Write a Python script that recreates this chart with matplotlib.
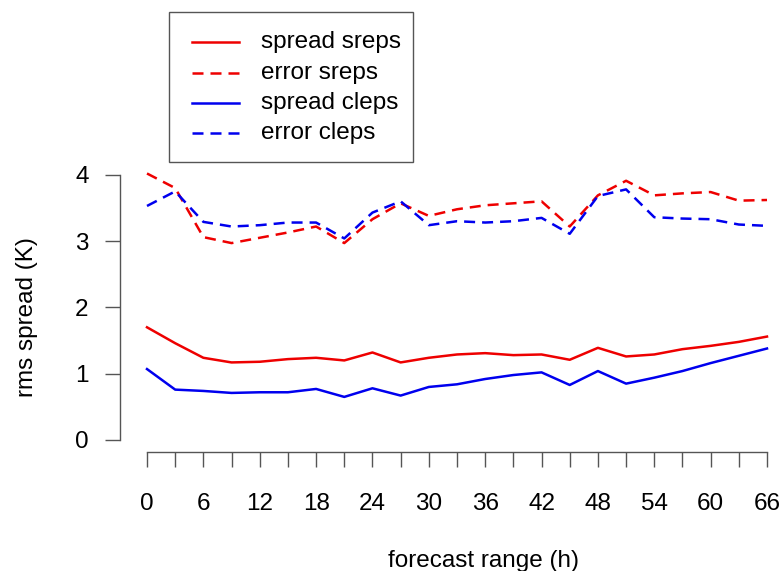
import matplotlib
matplotlib.use("Agg")
import matplotlib.pyplot as plt
from matplotlib.lines import Line2D
from matplotlib.patches import Rectangle

plt.rcParams['font.family'] = ['Liberation Sans', 'DejaVu Sans']

hours = [0, 3, 6, 9, 12, 15, 18, 21, 24, 27, 30, 33, 36, 39, 42, 45, 48, 51, 54, 57, 60, 63, 66]
spread_sreps = [1.70, 1.46, 1.24, 1.17, 1.18, 1.22, 1.24, 1.20, 1.32, 1.17, 1.24, 1.29, 1.31, 1.28, 1.29, 1.21, 1.39, 1.26, 1.29, 1.37, 1.42, 1.48, 1.56]
error_sreps = [4.02, 3.80, 3.06, 2.97, 3.05, 3.13, 3.22, 2.97, 3.33, 3.57, 3.38, 3.48, 3.54, 3.57, 3.60, 3.22, 3.69, 3.91, 3.69, 3.72, 3.74, 3.61, 3.62]
spread_cleps = [1.07, 0.76, 0.74, 0.71, 0.72, 0.72, 0.77, 0.65, 0.78, 0.67, 0.80, 0.84, 0.92, 0.98, 1.02, 0.83, 1.04, 0.85, 0.94, 1.04, 1.16, 1.27, 1.38]
error_cleps = [3.53, 3.75, 3.29, 3.22, 3.24, 3.28, 3.28, 3.04, 3.43, 3.60, 3.24, 3.30, 3.28, 3.30, 3.35, 3.11, 3.68, 3.78, 3.36, 3.34, 3.33, 3.25, 3.23]
legend_labels = ["spread sreps", "error sreps", "spread cleps", "error cleps"]
yticks = [0, 1, 2, 3, 4]
xticks_minor = list(range(0, 67, 3))

W, H = 780, 571
fig = plt.figure(figsize=(7.8, 5.71), dpi=100)
left_px, right_px, bottom_px, top_px = 120, 780, 452, 5
ax = fig.add_axes([left_px / W, 1 - bottom_px / H, (right_px - left_px) / W, (bottom_px - top_px) / H])

xs = 620 / 66.0
x0 = 147
ax.set_xlim((left_px - x0) / xs, (right_px - x0) / xs)
ys = 66.3
y0 = 440
ax.set_ylim((y0 - bottom_px) / ys, (y0 - top_px) / ys)

lw = 1.8
dash = (0, (4.4, 2.8))
ax.plot(hours, spread_sreps, color='#ee0000', lw=lw)
ax.plot(hours, error_sreps, color='#ee0000', lw=lw, linestyle=dash)
ax.plot(hours, spread_cleps, color='#0000ee', lw=lw)
ax.plot(hours, error_cleps, color='#0000ee', lw=lw, linestyle=dash)

for s in ['top', 'right']:
    ax.spines[s].set_visible(False)
axcol = '#555555'
ax.spines['left'].set_bounds(0, 4)
ax.spines['bottom'].set_bounds(0, 66)
for s in ['left', 'bottom']:
    ax.spines[s].set_color(axcol)
    ax.spines[s].set_linewidth(1.0)

ax.set_yticks(yticks)
ax.set_yticklabels([str(v) for v in yticks])
ax.set_xticks(xticks_minor)
ax.set_xticklabels([str(h) if h % 6 == 0 else '' for h in xticks_minor])
ax.tick_params(axis='both', length=10.5, width=1.0, color=axcol, labelsize=17.5, labelcolor='black')
ax.tick_params(axis='y', pad=12)
ax.tick_params(axis='x', pad=19)

fig.text(27 / W, 1 - 317 / H, 'rms spread (K)', rotation=90, ha='center', va='center', fontsize=17.5)
fig.text(484 / W, 1 - 567 / H, 'forecast range (h)', ha='center', va='baseline', fontsize=17.5)

rect = Rectangle((169 / W, 1 - 162 / H), (413 - 169) / W, (162 - 12) / H, transform=fig.transFigure,
                 fill=False, edgecolor='#555555', lw=1.0)
fig.add_artist(rect)
rows_y = [42, 73, 103, 133]
styles = [('#ee0000', '-'), ('#ee0000', dash), ('#0000ee', '-'), ('#0000ee', dash)]
for lab, ry, (c, ls) in zip(legend_labels, rows_y, styles):
    fig.add_artist(Line2D([192 / W, 239 / W], [1 - ry / H, 1 - ry / H], transform=fig.transFigure,
                          color=c, lw=lw, linestyle=ls))
    fig.text(261 / W, 1 - ry / H, lab, ha='left', va='center', fontsize=17.5)

fig.savefig('out.png', dpi=100)
